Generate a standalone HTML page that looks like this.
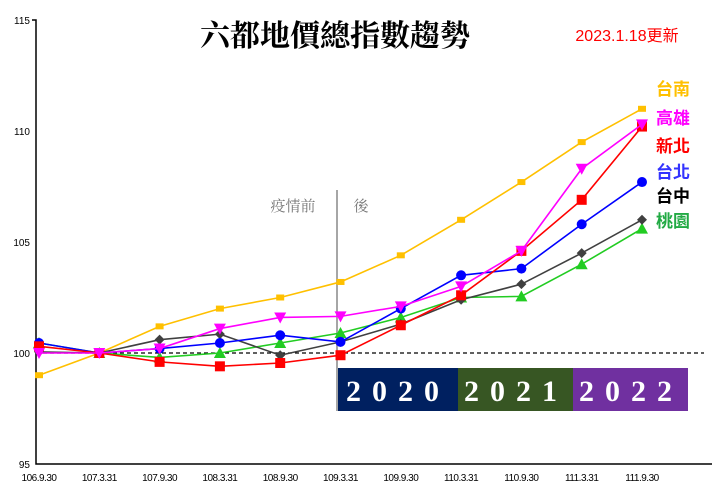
<!DOCTYPE html>
<html><head><meta charset="utf-8"><style>
body{margin:0;background:#fff;}
svg{display:block;}
</style></head><body>
<svg id="chart" width="720" height="496" viewBox="0 0 720 496" xmlns="http://www.w3.org/2000/svg">
<text x="335" y="46" text-anchor="middle" font-family="'Liberation Serif','Noto Serif CJK SC',serif" font-weight="bold" font-size="30" fill="#000">六都地價總指數趨勢</text>
<text x="627" y="41" text-anchor="middle" font-family="'Liberation Sans','Noto Sans CJK TC',sans-serif" font-size="16" fill="#ff0000">2023.1.18更新</text>
<g id="axes"></g>
<rect x="338" y="368" width="120" height="43" fill="#002060"/>
<rect x="458" y="368" width="115" height="43" fill="#375623"/>
<rect x="573" y="368" width="115" height="43" fill="#7030a0"/>
<g font-family="'Liberation Serif',serif" font-weight="bold" font-size="30" fill="#fff" text-anchor="middle">
<text x="398" y="401" letter-spacing="11">2020</text>
<text x="516" y="401" letter-spacing="11">2021</text>
<text x="631" y="401" letter-spacing="11">2022</text>
</g>
<line x1="337" y1="190" x2="337" y2="411" stroke="#a6a6a6" stroke-width="2"/>
<text x="293" y="211" text-anchor="middle" font-family="'Liberation Serif','Noto Serif CJK SC',serif" font-size="15" fill="#777">疫情前</text>
<text x="361" y="211" text-anchor="middle" font-family="'Liberation Serif','Noto Serif CJK SC',serif" font-size="15" fill="#777">後</text>
<g id="series"></g>
<g font-family="'Liberation Sans','Noto Sans CJK TC',sans-serif" font-size="17" font-weight="bold">
<text x="656" y="95" fill="#ffc000">台南</text>
<text x="656" y="124" fill="#ff00ff">高雄</text>
<text x="656" y="152" fill="#ff0000">新北</text>
<text x="656" y="178" fill="#3333ff">台北</text>
<text x="656" y="202" fill="#000">台中</text>
<text x="656" y="227" fill="#22aa44">桃園</text>
</g>
</svg>
<script>
const categories=["106.9.30","107.3.31","107.9.30","108.3.31","108.9.30","109.3.31","109.9.30","110.3.31","110.9.30","111.3.31","111.9.30"];
const yTicks=[95,100,105,110,115];
const tainan=[99.0,100,101.2,102.0,102.5,103.2,104.4,106.0,107.7,109.5,111.0];
const kaohsiung=[100.0,100,100.2,101.1,101.6,101.65,102.1,103.0,104.6,108.3,110.3];
const newTaipei=[100.3,100,99.6,99.4,99.55,99.9,101.25,102.6,104.6,106.9,110.2];
const taipei=[100.45,100,100.2,100.45,100.8,100.5,102.0,103.5,103.8,105.8,107.7];
const taichung=[100.05,100,100.6,100.85,99.9,100.5,101.3,102.4,103.1,104.5,106.0];
const taoyuan=[100.45,100,99.8,100.0,100.45,100.9,101.6,102.5,102.55,104.0,105.6];
const NS="http://www.w3.org/2000/svg";
const x=i=>39+60.3*i;
const y=v=>353-(v-100)*22.2;
function mk(tag,attrs,parent){const e=document.createElementNS(NS,tag);for(const k in attrs)e.setAttribute(k,attrs[k]);parent.appendChild(e);return e;}
const ax=document.getElementById('axes');
let a=mk('path',{d:`M32 ${y(115)} H36 V${y(95)} H712`,fill:'none',stroke:'#000','stroke-width':1.5},ax);


let d=mk('line',{x1:36,y1:y(100),x2:704,y2:y(100),stroke:'#000','stroke-dasharray':'4 3','stroke-width':1.2},ax);


yTicks.forEach(v=>{const t=mk('text',{x:30,y:y(v)+4,'text-anchor':'end','font-family':'Liberation Sans,sans-serif','font-size':10,fill:'#000'},ax);t.textContent=v;

});
categories.forEach((c,i)=>{const t=mk('text',{x:x(i),y:481,'text-anchor':'middle','font-family':'Liberation Sans,sans-serif','font-size':10,fill:'#000','letter-spacing':'-0.5'},ax);t.textContent=c;

});
const sg=document.getElementById('series');
const series=[
{n:'tainan',d:tainan,c:'#ffc000',m:'smallsq'},
{n:'taoyuan',d:taoyuan,c:'#22cc22',m:'tri'},
{n:'taichung',d:taichung,c:'#404040',m:'dia'},
{n:'taipei',d:taipei,c:'#0000ff',m:'circ'},
{n:'new-taipei',d:newTaipei,c:'#ff0000',m:'sq'},
{n:'kaohsiung',d:kaohsiung,c:'#ff00ff',m:'itri'}];
series.forEach(s=>{
const g=mk('g',{},sg);


const l=mk('polyline',{points:s.d.map((v,i)=>x(i)+','+y(v)).join(' '),fill:'none',stroke:s.c,'stroke-width':1.6},g);


s.d.forEach((v,i)=>{const cx=x(i),cy=y(v);let p;
if(s.m==='smallsq')p=mk('rect',{x:cx-4,y:cy-3,width:8,height:6,fill:s.c},g);
else if(s.m==='sq')p=mk('rect',{x:cx-5,y:cy-5,width:10,height:10,fill:s.c},g);
else if(s.m==='circ')p=mk('circle',{cx:cx,cy:cy,r:5,fill:s.c},g);
else if(s.m==='tri')p=mk('polygon',{points:`${cx},${cy-6} ${cx+6},${cy+5} ${cx-6},${cy+5}`,fill:s.c},g);
else if(s.m==='itri')p=mk('polygon',{points:`${cx-6},${cy-5} ${cx+6},${cy-5} ${cx},${cy+6}`,fill:s.c},g);
else p=mk('polygon',{points:`${cx},${cy-5} ${cx+5},${cy} ${cx},${cy+5} ${cx-5},${cy}`,fill:s.c},g);

});
});
</script>
</body></html>
